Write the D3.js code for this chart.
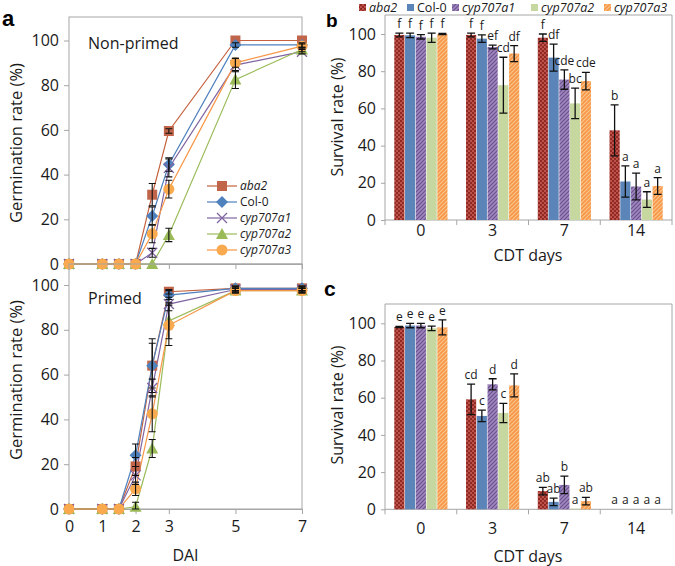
<!DOCTYPE html>
<html><head><meta charset="utf-8">
<script src="https://cdn.jsdelivr.net/npm/d3@7/dist/d3.min.js"></script>
<style>
body{margin:0;background:#fff;}
svg{display:block;font-family:"Open Sans",sans-serif;}
</style></head>
<body><svg id="c" width="675" height="566"></svg>
<script>
// ---------- DATA ----------
const genotypes = ["aba2","Col-0","cyp707a1","cyp707a2","cyp707a3"];
const italicName = [true,false,true,true,true];
const dai = [0,1,1.5,2,2.5,3,5,7];
const daiTicks = [0,1,2,3,5,7];
const germTicks = [0,20,40,60,80,100];

// Panel a, non-primed germination (%) per genotype, at dai
const nonPrimed = [
  [0,0,0,0,31,59.5,100,100],
  [0,0,0,0,21.5,44.5,98,98],
  [0,0,0,0,5,43,89,95],
  [0,0,0,0,0,13,82.5,96],
  [0,0,0,0,13.5,33.5,90,97.5]
];
const nonPrimedErr = [
  [0,0,0,0,5,1,0,0],
  [0,0,0,0,4,3,1,1],
  [0,0,0,0,2,4,3,1],
  [0,0,0,0,0,3,4,1],
  [0,0,0,0,4,4,2,1]
];
// Panel a, primed
const primed = [
  [0,0,0,19,64,97,98.5,98.5],
  [0,0,0,24,64,95.5,98.5,98.5],
  [0,0,0,15,54,91.5,98,98],
  [0,0,0,1,27,84,97.5,97.5],
  [0,0,0,9,42.5,82,97.5,97.5]
];
const primedErr = [
  [0,0,0,4,12,1,1,1],
  [0,0,0,5,10,2,1,1],
  [0,0,0,4,4,3,1,1],
  [0,0,0,2,4,8,1,1],
  [0,0,0,3,8,9,1,1]
];

const cdtDays = ["0","3","7","14"];
const survTicks = [0,20,40,60,80,100];
// Panel b survival (%) [day][genotype]
const survB = [
  [99.5,99.3,98.5,98,100],
  [99.5,97.5,93,72.5,89.5],
  [98,87.3,75.5,62.7,74.7],
  [48.2,20.7,18,11,18.3]
];
const survBErr = [
  [1,1.2,1.2,2.5,0.3],
  [1,2,1,15,4.3],
  [2,7.3,5.2,8.2,4.7],
  [13.7,8.4,7.2,4.2,4.5]
];
const lettersB = [
  ["f","f","f","f","f"],
  ["f","f","ef","cd","df"],
  ["f","df","cde","bc","cde"],
  ["b","a","a","a","a"]
];
// Panel c survival (%)
const survC = [
  [98,98.8,98.8,97.3,97.8],
  [59.1,50.2,67.2,51.8,66.6],
  [9.8,4,13.1,0.3,4.4],
  [0,0,0,0,0]
];
const survCErr = [
  [0.3,1.2,1.2,1.2,4],
  [8.2,3.1,3,5.2,6.2],
  [2,2,4.7,0,2],
  [0,0,0,0,0]
];
const lettersC = [
  ["e","e","e","e","e"],
  ["cd","c","d","c","d"],
  ["ab","ab","b","a","ab"],
  ["a","a","a","a","a"]
];

// ---------- STYLE ----------
const lineCol = ["#C5623F","#4F81BD","#8064A2","#9BBB59","#F79646"];
const markerFill = ["#C0654A","#4F81BD","#8064A2","#9BBB59","#F9A94E"];
const markers = ["square","diamond","cross","triangle","circle"];
const frameCol = "#A6A6A6";
const txt = "#1a1a1a";

const svg = d3.select("#c");
const defs = svg.append("defs");
function pat(id, bg, fg, kind){
  const p = defs.append("pattern").attr("id",id).attr("patternUnits","userSpaceOnUse")
    .attr("width",4).attr("height",4);
  p.append("rect").attr("width",4).attr("height",4).attr("fill",bg);
  if(kind==="check"){
    p.append("rect").attr("x",0).attr("y",0).attr("width",2).attr("height",2).attr("fill",fg);
    p.append("rect").attr("x",2).attr("y",2).attr("width",2).attr("height",2).attr("fill",fg);
  } else if(kind==="diag"){
    p.append("path").attr("d","M-1,1 L1,-1 M0,4 L4,0 M3,5 L5,3").attr("stroke",fg).attr("stroke-width",1.2);
  }
}
pat("p0","#C0504D","#8E2B20","check");
pat("p2","#9F88BD","#6B4E8F","diag");
pat("p4","#F79646","#FBC58C","diag");
const barFill = ["url(#p0)","#5B84B8","url(#p2)","#C7D7A0","url(#p4)"];
const legendFill = barFill;

// ---------- PANEL A ----------
const xA = d3.scaleLinear().domain([0,7]).range([69,302]);
const panelsA = [
  {vals:nonPrimed, err:nonPrimedErr, y:d3.scaleLinear().domain([0,100]).range([264,40.5]), top:17, bottom:264, label:"Non-primed", ly:49, showX:false, tcy:143},
  {vals:primed, err:primedErr, y:d3.scaleLinear().domain([0,100]).range([509,285]), top:264, bottom:509, label:"Primed", ly:304, showX:true, tcy:380}
];

function marker(g, type, x, y, i){
  const s = 5;
  if(type==="square") g.append("rect").attr("x",x-s).attr("y",y-s).attr("width",2*s).attr("height",2*s).attr("fill",markerFill[i]);
  else if(type==="diamond") g.append("path").attr("d",`M${x},${y-6}L${x+6},${y}L${x},${y+6}L${x-6},${y}Z`).attr("fill",markerFill[i]);
  else if(type==="triangle") g.append("path").attr("d",`M${x},${y-6}L${x+6},${y+5}L${x-6},${y+5}Z`).attr("fill",markerFill[i]);
  else if(type==="circle") g.append("circle").attr("cx",x).attr("cy",y).attr("r",5.5).attr("fill",markerFill[i]);
  else if(type==="cross") g.append("path").attr("d",`M${x-5},${y-5}L${x+5},${y+5}M${x-5},${y+5}L${x+5},${y-5}`).attr("stroke",markerFill[i]).attr("stroke-width",1.3);
}

panelsA.forEach(P=>{
  const g = svg.append("g");
  g.append("rect").attr("x",xA(0)).attr("y",P.top).attr("width",xA(7)-xA(0)).attr("height",P.bottom-P.top)
    .attr("fill","none").attr("stroke",frameCol).attr("stroke-width",1);
  const yAx = d3.axisLeft(P.y).tickValues(germTicks).tickSize(5).tickPadding(5);
  const ya = g.append("g").attr("transform",`translate(${xA(0)},0)`).call(yAx);
  ya.select(".domain").remove();
  ya.selectAll("line").attr("stroke",frameCol);
  ya.selectAll("text").attr("font-size",16).attr("fill",txt).attr("font-family","Open Sans");
  const xAx = d3.axisBottom(xA).tickValues(daiTicks).tickSize(5).tickFormat(P.showX?d3.format("d"):"");
  const xa = g.append("g").attr("transform",`translate(0,${P.bottom})`).call(xAx);
  xa.select(".domain").attr("stroke",frameCol);
  xa.selectAll("line").attr("stroke",frameCol);
  xa.selectAll("text").attr("font-size",16).attr("fill",txt).attr("dy","0.95em").attr("font-family","Open Sans");
  g.append("text").attr("x",xA(0)+19).attr("y",P.ly).attr("font-size",16).attr("fill",txt).text(P.label);
  P.vals.forEach((v,i)=>{
    const line = d3.line().x((d,k)=>xA(dai[k])).y(d=>P.y(d));
    g.append("path").attr("d",line(v)).attr("fill","none").attr("stroke",lineCol[i]).attr("stroke-width",1.2);
  });
  P.vals.forEach((v,i)=>{
    v.forEach((d,k)=>marker(g,markers[i],xA(dai[k]),P.y(d),i));
  });
  P.vals.forEach((v,i)=>{
    v.forEach((d,k)=>{
      const e = P.err[i][k]; if(!e) return;
      const x = xA(dai[k]);
      const y1 = P.y(Math.min(d+e,100.5)), y2 = P.y(Math.max(d-e,0));
      g.append("path").attr("d",`M${x},${y1}V${y2}M${x-3.5},${y1}H${x+3.5}M${x-3.5},${y2}H${x+3.5}`)
        .attr("stroke","#111").attr("stroke-width",1.1).attr("fill","none");
    });
  });
  g.append("text").attr("transform",`translate(22,${P.tcy}) rotate(-90)`).attr("text-anchor","middle")
    .attr("font-size",16.5).attr("fill",txt).text("Germination rate (%)");
});
svg.append("text").attr("x",xA(3.5)).attr("y",561).attr("text-anchor","middle").attr("font-size",16).attr("fill",txt).text("DAI");

// legend a
genotypes.forEach((gname,i)=>{
  const y = 186 + i*16;
  const g = svg.append("g");
  g.append("line").attr("x1",207).attr("x2",237).attr("y1",y).attr("y2",y).attr("stroke",lineCol[i]).attr("stroke-width",1.2);
  marker(g,markers[i],222,y,i);
  g.append("text").attr("x",240).attr("y",y).attr("dy","0.35em").attr("font-size",12).attr("fill",txt)
    .attr("font-style",italicName[i]?"italic":"normal").text(gname);
});

// ---------- PANELS B, C ----------
const xB = d3.scaleBand().domain(cdtDays).range([385,672]).paddingInner(0.25).paddingOuter(0.125);
const xG = d3.scaleBand().domain(genotypes).range([0,xB.bandwidth()]);
const bars = [
  {vals:survB, err:survBErr, letters:lettersB, y:d3.scaleLinear().domain([0,100]).range([220,34]), top:15, tickY:236, titleY:261, ycenter:117},
  {vals:survC, err:survCErr, letters:lettersC, y:d3.scaleLinear().domain([0,100]).range([509.3,323.3]), top:304, tickY:534, titleY:562, ycenter:405}
];
bars.forEach(P=>{
  const g = svg.append("g");
  const base = P.y(0);
  g.append("path").attr("d",`M385,${base}V${P.top}H672V${base}`).attr("fill","none").attr("stroke",frameCol);
  const yAx = d3.axisLeft(P.y).tickValues(survTicks).tickSize(4).tickPadding(5);
  const ya = g.append("g").attr("transform","translate(385,0)").call(yAx);
  ya.select(".domain").remove();
  ya.selectAll("line").attr("stroke",frameCol);
  ya.selectAll("text").attr("font-size",16).attr("fill",txt).attr("font-family","Open Sans");
  g.append("line").attr("x1",385).attr("x2",672).attr("y1",base).attr("y2",base).attr("stroke",frameCol);
  const seps = [385].concat(cdtDays.map(d=>xB(d)+xB.bandwidth()+xB.step()*xB.paddingInner()/2));
  seps.forEach(s=>g.append("line").attr("x1",s).attr("x2",s).attr("y1",base).attr("y2",base+5).attr("stroke",frameCol));
  cdtDays.forEach(d=>{
    g.append("text").attr("x",xB(d)+xB.bandwidth()/2).attr("y",P.tickY).attr("text-anchor","middle")
      .attr("font-size",16).attr("fill",txt).text(d);
  });
  g.append("text").attr("x",528).attr("y",P.titleY).attr("text-anchor","middle").attr("font-size",16).attr("fill",txt).text("CDT days");
  g.append("text").attr("transform",`translate(343,${P.ycenter}) rotate(-90)`).attr("text-anchor","middle")
    .attr("font-size",16).attr("fill",txt).text("Survival rate (%)");
  cdtDays.forEach((d,di)=>{
    genotypes.forEach((gn,gi)=>{
      const v = P.vals[di][gi];
      const x = xB(d)+xG(gn);
      g.append("rect").attr("x",x+0.3).attr("y",P.y(v)).attr("width",xG.bandwidth()-0.6).attr("height",base-P.y(v))
        .attr("fill",barFill[gi]);
    });
  });
  cdtDays.forEach((d,di)=>{
    genotypes.forEach((gn,gi)=>{
      const v = P.vals[di][gi], e = P.err[di][gi];
      const cx = xB(d)+xG(gn)+xG.bandwidth()/2;
      if(e>0){
        const y1=P.y(v+e), y2=P.y(v-e);
        g.append("path").attr("d",`M${cx},${y1}V${y2}M${cx-4},${y1}H${cx+4}M${cx-4},${y2}H${cx+4}`)
          .attr("stroke","#111").attr("stroke-width",1.3).attr("fill","none");
      }
      const topv = v+e;
      g.append("text").attr("x",cx).attr("y",P.y(topv)-5).attr("text-anchor","middle")
        .attr("font-size",12).attr("fill",txt).text(P.letters[di][gi]);
    });
  });
});

// legend b
const legX = [363,411,456,535,608];
genotypes.forEach((gn,i)=>{
  svg.append("rect").attr("x",legX[i]-4).attr("y",4).attr("width",7).attr("height",7).attr("fill",legendFill[i]);
  svg.append("text").attr("x",legX[i]+6).attr("y",8).attr("dy","0.35em").attr("font-size",12.5)
    .attr("font-style",italicName[i]?"italic":"normal").attr("fill",txt).text(gn);
});

// panel labels
svg.append("text").attr("x",2).attr("y",26).attr("font-family","Liberation Sans, Arial").attr("font-weight","bold").attr("font-size",22).attr("fill","#000").text("a");
svg.append("text").attr("x",326).attr("y",27).attr("font-family","Liberation Sans, Arial").attr("font-weight","bold").attr("font-size",19).attr("fill","#000").text("b");
svg.append("text").attr("x",324).attr("y",296).attr("font-family","Liberation Sans, Arial").attr("font-weight","bold").attr("font-size",21).attr("fill","#000").text("c");
</script></body></html>
